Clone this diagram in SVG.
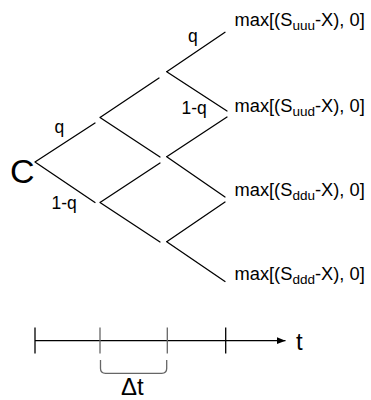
<svg xmlns="http://www.w3.org/2000/svg" width="371" height="400" viewBox="0 0 371 400">
<defs>
<style>
.t{font-family:"Liberation Sans",Arial,sans-serif;fill:#000}
.lab{font-size:17.5px}
.pay{font-size:18.3px}
.sub{font-size:13.5px}
.br{stroke:#000;stroke-width:1.3;fill:none;stroke-linecap:round}
.g{stroke:#666;stroke-width:1.3;fill:none}
</style>
<marker id="ah" viewBox="0 0 10 10" refX="10" refY="5" markerWidth="9" markerHeight="9" markerUnits="userSpaceOnUse" orient="auto">
<path d="M0,1 L10,5 L0,9 Z" fill="#000"/>
</marker>
</defs>
<rect width="371" height="400" fill="#fff"/>
<g id="connectors">
<path class="br" d="M35,162 L95,123 M35,162 L95,202.5"/>
<path class="br" d="M100,117.5 L159,78 M100,117.5 L160,157"/>
<path class="br" d="M100,202.5 L160,163 M100,202.5 L160,242"/>
<path class="br" d="M166.7,71.7 L225,32.3 M166.7,71.7 L227,111"/>
<path class="br" d="M166.7,156.7 L227,117 M166.7,156.7 L225,197"/>
<path class="br" d="M166.7,241.7 L225,202 M166.7,241.7 L225,281.5"/>
<text class="t lab" x="54.5" y="133">q</text>
<text class="t lab" x="51.5" y="208.5">1-q</text>
<text class="t lab" x="188" y="42">q</text>
<text class="t lab" x="181.5" y="114">1-q</text>
</g>
<g id="node-C"><text class="t" x="10" y="183" font-size="34">C</text></g>
<g id="node-uuu"><text class="t pay" x="234.5" y="26">max[(S<tspan class="sub" dy="4">uuu</tspan><tspan dy="-4">-X), 0]</tspan></text></g>
<g id="node-uud"><text class="t pay" x="234.5" y="112">max[(S<tspan class="sub" dy="4">uud</tspan><tspan dy="-4">-X), 0]</tspan></text></g>
<g id="node-ddu"><text class="t pay" x="234.5" y="196">max[(S<tspan class="sub" dy="4">ddu</tspan><tspan dy="-4">-X), 0]</tspan></text></g>
<g id="node-ddd"><text class="t pay" x="234.5" y="280">max[(S<tspan class="sub" dy="4">ddd</tspan><tspan dy="-4">-X), 0]</tspan></text></g>
<g id="timeline">
<line x1="35" y1="340.7" x2="285.5" y2="340.7" stroke="#000" stroke-width="1.3" marker-end="url(#ah)"/>
<line x1="35" y1="327.5" x2="35" y2="353.5" stroke="#000" stroke-width="1.3"/>
<line class="g" x1="100" y1="327.5" x2="100" y2="353.5"/>
<line class="g" x1="167.3" y1="327.5" x2="167.3" y2="353.5"/>
<line x1="225.7" y1="327.5" x2="225.7" y2="353.5" stroke="#000" stroke-width="1.3"/>
<path class="g" d="M100.5,360 V368.5 Q100.5,373.3 105.5,373.3 H161.7 Q166.7,373.3 166.7,368.5 V360" stroke="#333"/>
<text class="t" x="296" y="350" font-size="24">t</text>
<text class="t" x="121" y="395" font-size="24">Δt</text>
</g>
</svg>
